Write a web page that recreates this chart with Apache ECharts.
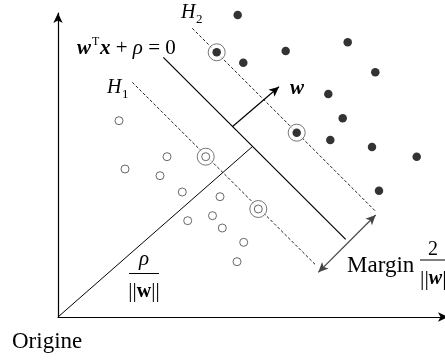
<!DOCTYPE html>
<html>
<head>
<meta charset="utf-8">
<script src="https://cdn.jsdelivr.net/npm/echarts@6/dist/echarts.min.js"></script>
<style>
  html, body { margin: 0; padding: 0; background: #fff; }
  #chart { width: 445px; height: 360px; }
</style>
</head>
<body>
<div id="chart"></div>
<script>
// Class +1 samples (filled dots)
const positivePoints = [
  [179.7, 302], [185.3, 254.3], [227.7, 266], [289.7, 274.7],
  [317.3, 244.7], [270.3, 223], [284.7, 198.7], [272.3, 177],
  [314, 170], [358.7, 160.3], [321, 126.3]
];
// Class -1 samples (open circles)
const negativePoints = [
  [61, 196.3], [109, 160.3], [67, 148], [102, 141.3], [124.3, 125],
  [162, 120.3], [154.5, 101.3], [129.7, 96.3], [164.3, 89],
  [185.7, 74.7], [179, 55.3]
];
// Support vectors lying on H2 (class +1) and H1 (class -1)
const supportPositive = [[158.7, 264.7], [238.7, 184.3]];
const supportNegative = [[147.7, 160.3], [200.3, 108]];

// Separating hyperplane and the two margin hyperplanes
const hyperplane = [[105.3, 259.7], [287.7, 77.7]];
const marginH1 = [[74.3, 234.7], [257, 52.7]];
const marginH2 = [[134.3, 288.7], [317, 106.3]];
// Offset segment from the origin, normal vector w, margin width
const offsetSegment = [[0, 0], [194.3, 170.3]];
const normalVector = [[174.3, 190.3], [221, 230.3]];
const marginArrow = [[260.3, 44.7], [317.7, 102]];

const SERIF = '"Liberation Serif", "Times New Roman", serif';

function segment(points, style) {
  return {
    type: 'line',
    data: points,
    symbol: 'none',
    silent: true,
    lineStyle: style,
    z: 2
  };
}

function arrow(points, ends, style) {
  return {
    type: 'line',
    data: [],
    silent: true,
    markLine: {
      silent: true,
      symbol: ends,
      symbolSize: [7, 10],
      label: { show: false },
      lineStyle: style,
      emphasis: { disabled: true },
      data: [[{ coord: points[0] }, { coord: points[1] }]]
    },
    z: 2
  };
}

// Text placed by its baseline: the box top sits about 0.8 em above it.
function txt(x, baseline, text, size, opts) {
  return {
    type: 'text',
    x: x,
    y: baseline - Math.round(0.8 * size),
    silent: true,
    style: Object.assign({
      text: text,
      fontFamily: SERIF,
      fontSize: size,
      fill: '#000',
      align: 'left',
      verticalAlign: 'top'
    }, opts || {})
  };
}

const chart = echarts.init(document.getElementById('chart'), null, { renderer: 'canvas' });

chart.setOption({
  animation: false,
  backgroundColor: '#fff',
  grid: { left: 58, right: 0, top: 13, bottom: 43, containLabel: false },
  xAxis: {
    type: 'value', min: 0, max: 387,
    axisLine: { show: true, onZero: false, symbol: ['none', 'arrow'], symbolSize: [7, 10],
      symbolOffset: [0, 3], lineStyle: { color: '#000', width: 1.2 } },
    axisTick: { show: false }, axisLabel: { show: false }, splitLine: { show: false }
  },
  yAxis: {
    type: 'value', min: 0, max: 304,
    axisLine: { show: true, onZero: false, symbol: ['none', 'arrow'], symbolSize: [7, 10],
      lineStyle: { color: '#000', width: 1.2 } },
    axisTick: { show: false }, axisLabel: { show: false }, splitLine: { show: false }
  },
  series: [
    segment(hyperplane, { color: '#000', width: 1.2, type: 'solid' }),
    segment(marginH1, { color: '#222', width: 1, type: [3, 2] }),
    segment(marginH2, { color: '#222', width: 1, type: [3, 2] }),
    segment(offsetSegment, { color: '#000', width: 1, type: 'solid' }),
    arrow(normalVector, ['none', 'arrow'], { color: '#000', width: 1.2, type: 'solid' }),
    arrow(marginArrow, ['arrow', 'arrow'], { color: '#444', width: 1.2, type: 'solid' }),
    {
      // rings marking the support vectors
      type: 'scatter',
      data: supportPositive.concat(supportNegative),
      symbol: 'circle',
      symbolSize: 17,
      silent: true,
      itemStyle: { color: '#fff', borderColor: '#555', borderWidth: 1 },
      z: 3
    },
    {
      type: 'scatter',
      data: positivePoints.concat(supportPositive),
      symbol: 'circle',
      symbolSize: 8.5,
      silent: true,
      itemStyle: { color: '#000' },
      z: 4
    },
    {
      type: 'scatter',
      data: negativePoints.concat(supportNegative),
      symbol: 'circle',
      symbolSize: 8,
      silent: true,
      itemStyle: { color: '#fff', borderColor: '#444', borderWidth: 1 },
      z: 4
    }
  ],
  graphic: [
    // hyperplane equation
    txt(77, 55, 'w', 21, { fontWeight: 'bold', fontStyle: 'italic' }),
    txt(92, 46, 'T', 12),
    txt(100, 55, '{b|x}{n| + }{i|ρ}{n| = 0}', 21, {
      rich: {
        b: { fontFamily: SERIF, fontSize: 21, fontWeight: 'bold', fontStyle: 'italic' },
        n: { fontFamily: SERIF, fontSize: 21 },
        i: { fontFamily: SERIF, fontSize: 21, fontStyle: 'italic' }
      }
    }),
    // margin hyperplane labels
    txt(181, 19, 'H', 20, { fontStyle: 'italic' }),
    txt(196, 23, '2', 13),
    txt(107, 94, 'H', 20, { fontStyle: 'italic' }),
    txt(122, 98, '1', 13),
    // normal vector label
    txt(290, 95, 'w', 21, { fontWeight: 'bold', fontStyle: 'italic' }),
    // offset rho / ||w||
    txt(144, 266, 'ρ', 21, { fontStyle: 'italic', align: 'center' }),
    { type: 'line', silent: true, shape: { x1: 129, y1: 273.5, x2: 159, y2: 273.5 },
      style: { stroke: '#000', lineWidth: 1 } },
    txt(144, 297, '{n|||}{b|w}{n|||}', 20, {
      align: 'center',
      rich: {
        n: { fontFamily: SERIF, fontSize: 21 },
        b: { fontFamily: SERIF, fontSize: 20, fontWeight: 'bold' }
      }
    }),
    // margin width 2 / ||w||
    txt(347, 272, 'Margin', 23),
    txt(433, 256, '2', 20, { align: 'center' }),
    { type: 'line', silent: true, shape: { x1: 420, y1: 260, x2: 447, y2: 260 },
      style: { stroke: '#000', lineWidth: 1 } },
    txt(420, 284, '{n|||}{b|w}{n|||}', 20, {
      rich: {
        n: { fontFamily: SERIF, fontSize: 22 },
        b: { fontFamily: SERIF, fontSize: 20, fontWeight: 'bold', fontStyle: 'italic' }
      }
    }),
    // origin label
    txt(12, 348, 'Origine', 23)
  ]
});
</script>
</body>
</html>
